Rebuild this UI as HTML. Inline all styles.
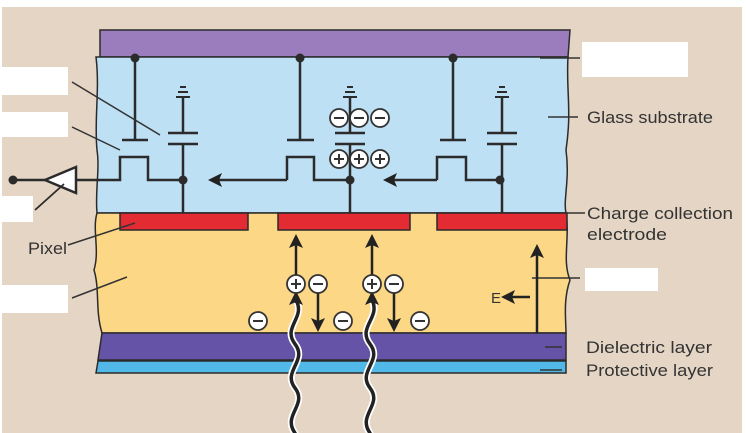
<!DOCTYPE html>
<html><head><meta charset="utf-8"><style>
html,body{margin:0;padding:0;background:#fff}
svg{display:block}
text{font-family:"Liberation Sans",sans-serif;fill:#333}
</style></head><body>
<svg width="748" height="433" viewBox="0 0 748 433" xmlns="http://www.w3.org/2000/svg">
<defs>
<marker id="ab" markerWidth="14" markerHeight="14" refX="10" refY="7" orient="auto" markerUnits="userSpaceOnUse"><path d="M0,0 L14,7 L0,14 L3,7z" fill="#222"/></marker>
</defs>
<rect x="2" y="7" width="740" height="426" fill="#e5d5c5"/>
<g stroke="#2b2b2b" stroke-width="1.5">
<path d="M100,30 L570,30 L568,57 L100,57z" fill="#9b7dbd"/>
<path d="M100,57 L568,57 C566,90 572,110 566,150 C570,180 563,200 566,213 L97,213 C95,190 100,170 97,150 C94,120 100,90 96,57z" fill="#bde0f4"/>
<path d="M97,213 L566,213 C570,240 562,260 570,280 C563,300 566,320 566,333 L102,333 C95,310 100,290 94,270 C100,250 92,230 97,213z" fill="#fcd786"/>
<path d="M102,333 L566,333 L566,360 L98,360z" fill="#6453a6"/>
<path d="M98,361 L566,361 L566,373 L96,373z" fill="#52b8e8"/>
<rect x="120" y="213" width="128" height="17" fill="#e32b33"/>
<rect x="278" y="213" width="132" height="17" fill="#e32b33"/>
<rect x="437" y="213" width="130" height="17" fill="#e32b33"/>
</g>
<g fill="#fff">
<rect x="0" y="67" width="68" height="28"/><rect x="0" y="112" width="68" height="25"/>
<rect x="0" y="196" width="33" height="26"/><rect x="0" y="285" width="68" height="28"/>
<rect x="582" y="42" width="106" height="35"/><rect x="585" y="268" width="73" height="23"/>
</g>
<g stroke="#2b2b2b" stroke-width="2.5" fill="none">
<path d="M135,58 V140 M122,140 H148 M300,58 V140 M287,140 H314 M453,58 V140 M440,140 H466"/>
<path d="M76,180 H120 V157 H148 V180 H183"/>
<path d="M287,180 V157 H314 V180 H350"/>
<path d="M437,180 V157 H466 V180 H500"/>
<path d="M287,180 H212" marker-end="url(#ab)"/>
<path d="M437,180 H387" marker-end="url(#ab)"/>
<path d="M183,97 V133 M168,133 H198 M168,144 H198 M183,144 V213"/>
<path d="M350,97 V133 M335,133 H365 M335,144 H365 M350,144 V213"/>
<path d="M502,97 V133 M487,133 H517 M487,144 H517 M502,144 V213"/>
<path d="M13,180 H45"/>
<path d="M76,167 L45,180 L76,193z" fill="#fff"/>
<path d="M35,210 L64,184" stroke-width="1.8"/>
</g>
<g stroke="#2b2b2b" stroke-width="2">
<path d="M176,97 H190 M178,92 H188 M180,87 H186"/>
<path d="M343,97 H357 M345,92 H355 M347,87 H353"/>
<path d="M495,97 H509 M497,92 H507 M499,87 H505"/>
</g>
<g fill="#2b2b2b">
<circle cx="135" cy="58" r="4.5"/><circle cx="300" cy="58" r="4.5"/><circle cx="453" cy="58" r="4.5"/>
<circle cx="183" cy="180" r="4.5"/><circle cx="350" cy="180" r="4.5"/><circle cx="500" cy="180" r="4.5"/>
<circle cx="13" cy="180" r="4.5"/>
</g>
<g stroke="#333" stroke-width="1.8" fill="#fff">
<circle cx="339" cy="118" r="9"/><circle cx="359" cy="118" r="9"/><circle cx="380" cy="118" r="9"/>
<circle cx="339" cy="159" r="9"/><circle cx="359" cy="159" r="9"/><circle cx="380" cy="159" r="9"/>
</g>
<g stroke="#333" stroke-width="2">
<path d="M334,118h10M354,118h10M375,118h10"/>
<path d="M334,159h10M339,154v10M354,159h10M359,154v10M375,159h10M380,154v10"/>
</g>
<g stroke="#333" stroke-width="1.5">
<path d="M72,82 L160,135 M72,127 L120,150 M68,245 L135,223 M72,298 L127,277"/>
<path d="M540,58 H580 M548,117 H578 M565,213 H585 M532,278 H580 M545,347 H562 M540,370 H562"/>
</g>
<g fill="none" stroke-linecap="round">
<path d="M295,433 C282,415 308,405 295,388 C282,371 308,361 295,344 C282,327 306,318 296,300" stroke="#fff" stroke-width="7"/>
<path d="M370,433 C357,415 383,405 370,388 C357,371 383,361 370,344 C357,327 381,318 372,300" stroke="#fff" stroke-width="7"/>
<path d="M295,433 C282,415 308,405 295,388 C282,371 308,361 295,344 C282,327 306,318 296,300" stroke="#222" stroke-width="3.5"/>
<path d="M370,433 C357,415 383,405 370,388 C357,371 383,361 370,344 C357,327 381,318 372,300" stroke="#222" stroke-width="3.5"/>
</g>
<g stroke="#222" stroke-width="2.5" fill="none">
<path d="M296,303 V295" marker-end="url(#ab)"/>
<path d="M372,303 V295" marker-end="url(#ab)"/>
<path d="M296,275 V238" marker-end="url(#ab)"/>
<path d="M372,275 V238" marker-end="url(#ab)"/>
<path d="M318,293 V328" marker-end="url(#ab)"/>
<path d="M394,293 V328" marker-end="url(#ab)"/>
<path d="M537,333 V248" marker-end="url(#ab)"/>
<path d="M530,297 H505" marker-end="url(#ab)"/>
</g>
<g stroke="#333" stroke-width="1.8" fill="#fff">
<circle cx="296" cy="284" r="9"/><circle cx="318" cy="284" r="9"/>
<circle cx="372" cy="284" r="9"/><circle cx="394" cy="284" r="9"/>
<circle cx="258" cy="321" r="9"/><circle cx="343" cy="321" r="9"/><circle cx="420" cy="321" r="9"/>
</g>
<g stroke="#333" stroke-width="2">
<path d="M291,284h10M296,279v10M367,284h10M372,279v10"/>
<path d="M313,284h10M389,284h10M253,321h10M338,321h10M415,321h10"/>
</g>
<text x="491" y="303" font-size="15">E</text>
<text x="28" y="254" font-size="17" textLength="39" lengthAdjust="spacingAndGlyphs">Pixel</text>
<text x="587" y="123" font-size="17" textLength="126" lengthAdjust="spacingAndGlyphs">Glass substrate</text>
<text x="587" y="219" font-size="17" textLength="146" lengthAdjust="spacingAndGlyphs">Charge collection</text>
<text x="587" y="240" font-size="17" textLength="80" lengthAdjust="spacingAndGlyphs">electrode</text>
<text x="586" y="353" font-size="17" textLength="126" lengthAdjust="spacingAndGlyphs">Dielectric layer</text>
<text x="586" y="376" font-size="17" textLength="127" lengthAdjust="spacingAndGlyphs">Protective layer</text>
</svg>
</body></html>
